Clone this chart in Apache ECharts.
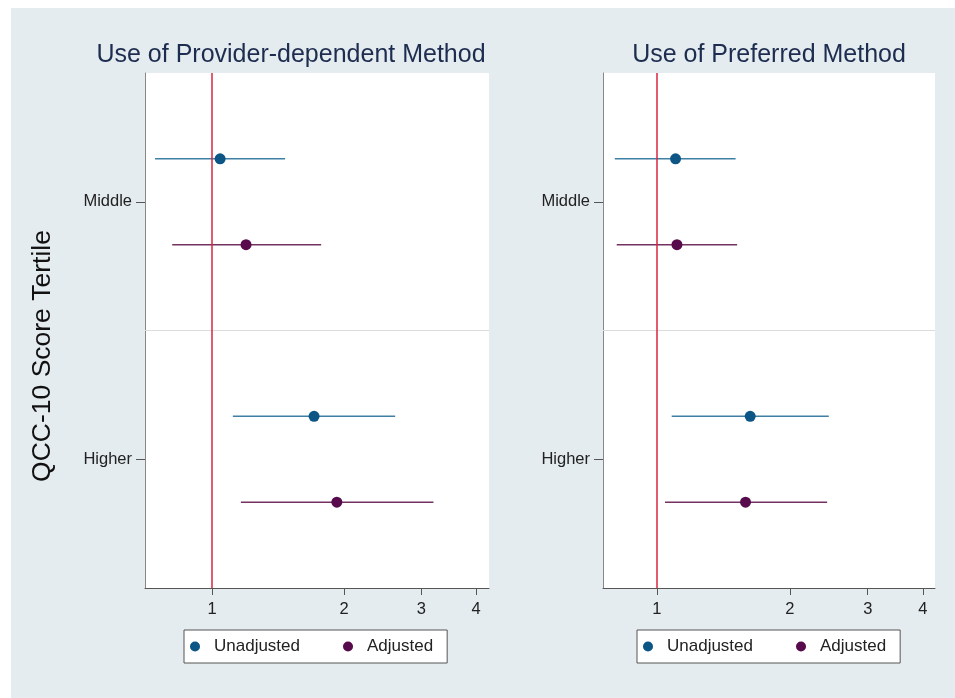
<!DOCTYPE html>
<html>
<head>
<meta charset="utf-8">
<script src="https://cdn.jsdelivr.net/npm/echarts@6/dist/echarts.min.js"></script>
<style>
  html, body { margin: 0; padding: 0; background: #ffffff; }
  #chart { position: absolute; left: 11px; top: 8px; width: 944px; height: 690px; }
</style>
</head>
<body>
<div id="chart"></div>
<script>
// QCC-10 score tertiles (reference: lowest tertile)
const tertiles = ['Middle', 'Higher'];
const panelTitles = ['Use of Provider-dependent Method', 'Use of Preferred Method'];
const modelNames = ['Unadjusted', 'Adjusted'];
const xTicks = [1, 2, 3, 4];

// Odds ratios and 95% confidence limits, one value per tertile
const providerUnadjOR = [1.043, 1.708];
const providerUnadjLo = [0.741, 1.115];
const providerUnadjHi = [1.467, 2.615];
const providerAdjOR   = [1.195, 1.925];
const providerAdjLo   = [0.811, 1.163];
const providerAdjHi   = [1.773, 3.197];

const preferredUnadjOR = [1.102, 1.626];
const preferredUnadjLo = [0.803, 1.080];
const preferredUnadjHi = [1.507, 2.449];
const preferredAdjOR   = [1.110, 1.587];
const preferredAdjLo   = [0.811, 1.043];
const preferredAdjHi   = [1.519, 2.428];

const panels = [
  { title: panelTitles[0], models: [
      { or: providerUnadjOR, lo: providerUnadjLo, hi: providerUnadjHi },
      { or: providerAdjOR, lo: providerAdjLo, hi: providerAdjHi } ] },
  { title: panelTitles[1], models: [
      { or: preferredUnadjOR, lo: preferredUnadjLo, hi: preferredUnadjHi },
      { or: preferredAdjOR, lo: preferredAdjLo, hi: preferredAdjHi } ] }
];

// layout and styling
const FONT = '"Liberation Sans", Arial, Helvetica, sans-serif';
const markerColors = ['#0c5584', '#570a4c'];
const ciColors = ['#3f7fa3', '#73325f'];
const refColor = '#d9263f';
const grids = [
  { left: 134, top: 65, width: 344, height: 515 },
  { left: 592, top: 65, width: 332, height: 515 }
];
const xRanges = [[0.703, 4.28], [0.755, 4.26]];
const titleCenters = [280, 758];
const legendLefts = [173, 626];
const rowOffset = 1 / 3;

const option = {
  backgroundColor: '#e4ecef',
  animation: false,
  textStyle: { fontFamily: FONT },
  grid: grids.map(g => Object.assign({ show: true, backgroundColor: '#ffffff', borderWidth: 0 }, g)),
  xAxis: grids.map((g, i) => ({
    type: 'log',
    gridIndex: i,
    position: 'bottom',
    min: xRanges[i][0],
    max: xRanges[i][1],
    splitLine: { show: false },
    axisLine: { show: true, onZero: false, lineStyle: { color: '#555', width: 1 } },
    axisTick: { show: true, length: 7, customValues: xTicks, lineStyle: { color: '#555' } },
    axisLabel: { customValues: xTicks, color: '#222', fontSize: 16.5, margin: 13, fontFamily: FONT,
                 formatter: v => String(Math.round(v)) },
    minorTick: { show: false }
  })),
  yAxis: grids.map((g, i) => ({
    type: 'value',
    gridIndex: i,
    inverse: true,
    min: 0,
    max: tertiles.length * 2,
    splitLine: { show: false },
    axisLine: { show: true, onZero: false, lineStyle: { color: '#888', width: 1 } },
    axisTick: { show: true, length: 9, customValues: tertiles.map((t, k) => 2 * k + 1), lineStyle: { color: '#555' } },
    axisLabel: { customValues: tertiles.map((t, k) => 2 * k + 1), color: '#222', fontSize: 16.5, margin: 13,
                 fontFamily: FONT, formatter: v => tertiles[Math.round((v - 1) / 2)] || '' }
  })),
  legend: legendLefts.map(l => ({
    data: modelNames,
    left: l,
    top: 622,
    orient: 'horizontal',
    icon: 'circle',
    itemWidth: 10,
    itemHeight: 10,
    itemGap: 43,
    padding: [8, 14, 8, 6],
    backgroundColor: '#ffffff',
    borderColor: '#555',
    borderWidth: 1,
    borderRadius: 0,
    selectedMode: false,
    textStyle: { color: '#222', fontSize: 17, fontFamily: FONT, padding: [0, 0, 0, 9], lineHeight: 17 }
  })),
  graphic: [
    ...panels.map((p, i) => ({
      type: 'text', x: titleCenters[i], y: 47,
      style: { text: p.title, fill: '#1d2c4f', font: '25px ' + FONT, textAlign: 'center', textVerticalAlign: 'middle' }
    })),
    {
      type: 'text', x: 32, y: 348, rotation: Math.PI / 2,
      style: { text: 'QCC-10 Score Tertile', fill: '#111', font: '26.5px ' + FONT, textAlign: 'center', textVerticalAlign: 'middle' }
    }
  ],
  series: []
};

panels.forEach((p, i) => {
  p.models.forEach((m, k) => {
    const rows = tertiles.map((t, r) => [m.lo[r], m.hi[r], 2 * r + 1 + (k === 0 ? -rowOffset : rowOffset)]);
    const ciSeries = {
      name: modelNames[k] + ' CI',
      type: 'custom',
      xAxisIndex: i,
      yAxisIndex: i,
      data: rows,
      encode: { x: [0, 1], y: 2 },
      z: 2,
      renderItem: (params, api) => {
        const a = api.coord([api.value(0), api.value(2)]);
        const b = api.coord([api.value(1), api.value(2)]);
        return { type: 'line', shape: { x1: a[0], y1: a[1], x2: b[0], y2: b[1] },
                 style: { stroke: ciColors[k], lineWidth: 1.5 } };
      }
    };
    if (k === 0) {
      ciSeries.markLine = {
        silent: true, symbol: 'none', label: { show: false }, animation: false,
        data: [
          { yAxis: tertiles.length, lineStyle: { color: '#dcdcdc', width: 1, type: 'solid' } },
          { xAxis: 1, lineStyle: { color: refColor, width: 1.5, type: 'solid' } }
        ]
      };
    }
    option.series.push(ciSeries);
    option.series.push({
      name: modelNames[k],
      type: 'scatter',
      xAxisIndex: i,
      yAxisIndex: i,
      symbol: 'circle',
      symbolSize: 11,
      z: 4,
      itemStyle: { color: markerColors[k], opacity: 1 },
      data: tertiles.map((t, r) => [m.or[r], 2 * r + 1 + (k === 0 ? -rowOffset : rowOffset)])
    });
  });
});

const chart = echarts.init(document.getElementById('chart'), null, { renderer: 'canvas' });
chart.setOption(option);
</script>
</body>
</html>
